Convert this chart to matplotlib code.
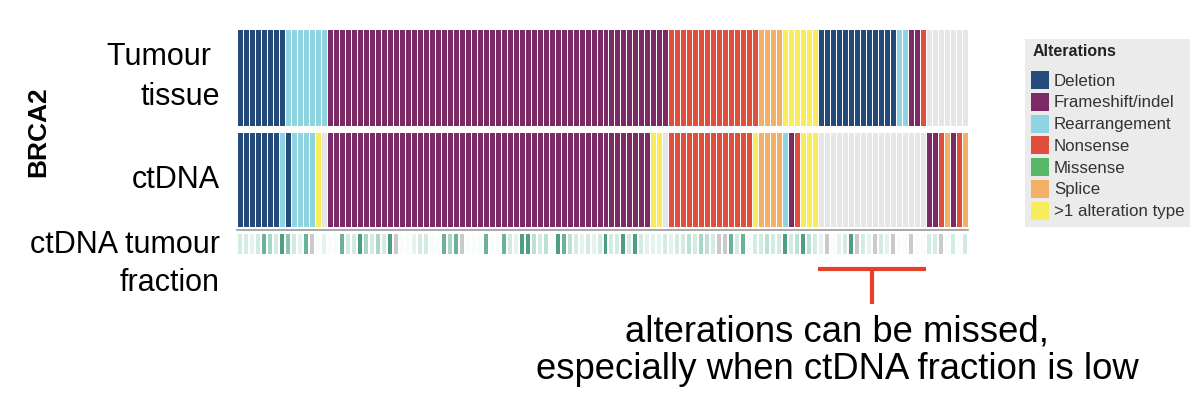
import numpy as np
import matplotlib
matplotlib.use('Agg')
import matplotlib.pyplot as plt
from matplotlib.colors import ListedColormap, BoundaryNorm, LinearSegmentedColormap
from matplotlib.patches import Rectangle
from matplotlib.transforms import blended_transform_factory

plt.rcParams['font.family'] = ['Liberation Sans', 'DejaVu Sans']

# alteration classes, in legend order
alterations = ['Deletion', 'Frameshift/indel', 'Rearrangement', 'Nonsense',
               'Missense', 'Splice', '>1 alteration type']
alt_colors = ['#234a78', '#7c2a66', '#8ed4e0', '#e04e3c',
              '#56b866', '#f2b066', '#f6ec5c']
none_color = '#e6e6e6'

# BRCA2 status per patient, as (alteration, number of patients) runs, left to right
tissue_runs = [('Deletion', 8), ('Rearrangement', 7), ('Frameshift/indel', 57),
               ('Nonsense', 15), ('Splice', 4), ('>1 alteration type', 6),
               ('Deletion', 13), ('Rearrangement', 2), ('Frameshift/indel', 2),
               ('Nonsense', 1), ('None', 7)]

ctdna_runs = [('Deletion', 7), ('Rearrangement', 1), ('Deletion', 1),
              ('Rearrangement', 4), ('>1 alteration type', 1), ('None', 1),
              ('Frameshift/indel', 54), ('>1 alteration type', 2), ('None', 1),
              ('Nonsense', 14), ('>1 alteration type', 1), ('Splice', 4),
              ('Rearrangement', 1), ('Frameshift/indel', 1), ('Nonsense', 1),
              ('>1 alteration type', 3), ('None', 18),
              ('Frameshift/indel', 2), ('Nonsense', 1), ('Splice', 1),
              ('Frameshift/indel', 1), ('Nonsense', 1), ('Splice', 1)]

# ctDNA tumour fraction per patient (nan = not available)
nan = np.nan
tumour_fraction = [
    0.10, 0.10, 0.05, 0.10, 0.30, 0.20, 0.10, 0.35, 0.25, 0.10,
    0.05, 0.30, nan, 0.00, 0.05, 0.00, 0.00, 0.30, 0.10, 0.10,
    0.35, 0.20, 0.10, 0.20, 0.10, 0.35, nan, 0.00, 0.00, 0.05,
    0.10, 0.10, 0.00, 0.00, 0.30, 0.20, 0.30, nan, 0.00, 0.00,
    0.00, 0.30, 0.00, 0.00, 0.30, 0.10, 0.05, 0.35, 0.35, 0.15,
    0.10, 0.15, 0.00, 0.35, 0.30, 0.15, 0.10, 0.05, 0.10, 0.05,
    0.10, 0.35, 0.10, 0.10, 0.35, 0.10, 0.35, 0.10, 0.05, 0.05,
    0.05, 0.10, 0.05, 0.10, 0.10, 0.15, 0.10, 0.20, 0.15, 0.10,
    nan, nan, 0.30, 0.10, 0.30, 0.00, 0.10, 0.10, 0.15, 0.10,
    0.10, 0.35, 0.10, 0.15, 0.35, 0.15, 0.10, 0.05, nan, 0.00,
    0.05, 0.10, 0.35, nan, 0.10, 0.05, nan, 0.10, 0.05, nan,
    0.00, 0.00, nan, 0.00, 0.00, 0.10, 0.10, nan, 0.00, 0.10,
    0.00, 0.10]


def expand(runs):
    # turn the runs into one class code per patient
    codes = []
    for name, n in runs:
        code = alterations.index(name) if name in alterations else len(alterations)
        codes += [code] * n
    return np.array(codes)


tissue = expand(tissue_runs)
ctdna = expand(ctdna_runs)
n_pat = len(tissue)

cmap = ListedColormap(alt_colors + [none_color])
norm = BoundaryNorm(np.arange(len(alterations) + 2) - 0.5, cmap.N)

frac_cmap = LinearSegmentedColormap.from_list(
    'tf', [(0, '#f8fcfa'), (0.25, '#d3ebe1'), (0.5, '#a9d7c5'), (1, '#2f8c6c')])
frac_cmap.set_bad('#cacaca')

fig = plt.figure(figsize=(12, 4.06), dpi=100)
W, H = 1200.0, 406.0

def px_axes(left, top, right, bottom):
    return fig.add_axes([left / W, 1 - bottom / H, (right - left) / W, (bottom - top) / H])

ax_t = px_axes(237, 30, 968, 127)
ax_c = px_axes(237, 133, 968, 228)
ax_f = px_axes(237, 234, 968, 256)

xedges = np.arange(n_pat + 1)
for ax, row in [(ax_t, tissue), (ax_c, ctdna)]:
    ax.pcolormesh(xedges, [0, 1], row[None, :], cmap=cmap, norm=norm,
                  edgecolors='white', linewidth=0.55)

ax_f.pcolormesh(xedges, [0, 1], np.ma.masked_invalid(np.array(tumour_fraction)[None, :]),
                cmap=frac_cmap, vmin=0, vmax=0.4, edgecolors='white', linewidth=0.25)

for ax in [ax_t, ax_c, ax_f]:
    ax.set_xlim(0, n_pat)
    ax.set_ylim(0, 1)
    ax.axis('off')

# thin grey baseline under the ctDNA row
ax_c.plot([0, n_pat], [-0.03, -0.03], color='#9a9a9a', lw=1.2, clip_on=False)

# row labels
fig.text(0.032, 1 - 132 / H, 'BRCA2', rotation=90, fontsize=19, fontweight='bold',
         ha='center', va='center')
fig.text(220 / W, 1 - 77 / H, 'Tumour \ntissue', fontsize=22, ha='right', va='center',
         multialignment='right', linespacing=1.45)
fig.text(220 / W, 1 - 180 / H, 'ctDNA', fontsize=22, ha='right', va='center')
fig.text(220 / W, 1 - 264 / H, 'ctDNA tumour\nfraction', fontsize=22, ha='right', va='center',
         multialignment='right', linespacing=1.35)

# bracket over the longest block of patients missed in ctDNA
missed = (ctdna == len(alterations)) & (tissue != len(alterations))
best, start = (0, 0), None
for i, m in enumerate(list(missed) + [False]):
    if m and start is None:
        start = i
    elif not m and start is not None:
        if i - start > best[1] - best[0]:
            best = (start, i)
        start = None
x0, x1 = best
tr = blended_transform_factory(ax_f.transData, fig.transFigure)
ax_f.plot([x0, x1], [1 - 270 / H, 1 - 270 / H], color='#e5402b', lw=3, transform=tr,
          clip_on=False, solid_capstyle='butt')
ax_f.plot([(x0 + x1) / 2] * 2, [1 - 270 / H, 1 - 305 / H], color='#e5402b', lw=3,
          transform=tr, clip_on=False, solid_capstyle='butt')

fig.text(837 / W, 1 - 351 / H, 'alterations can be missed,\nespecially when ctDNA fraction is low',
         fontsize=26.3, ha='center', va='center', linespacing=1.08)

# legend, drawn by hand in figure pixels
fig.add_artist(Rectangle((1025 / W, 1 - 228 / H), 165 / W, 188 / H, transform=fig.transFigure,
                         facecolor='#ebebeb', edgecolor='none'))
fig.text(1033 / W, 1 - 52 / H, 'Alterations', fontsize=11.5, fontweight='bold',
         ha='left', va='center', color='#222222')
for i, (lab, col) in enumerate(zip(alterations, alt_colors)):
    yc = 81 + i * 21.8
    fig.add_artist(Rectangle((1031 / W, 1 - (yc + 9) / H), 18 / W, 18 / H,
                             transform=fig.transFigure, facecolor=col, edgecolor='none'))
    fig.text(1054 / W, 1 - yc / H, lab, fontsize=12.2, ha='left', va='center', color='#333333')

fig.savefig('out.png', dpi=100)
